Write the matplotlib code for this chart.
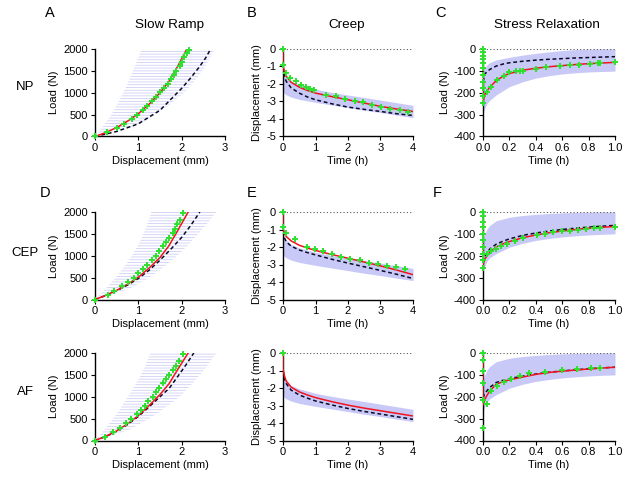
import matplotlib
matplotlib.use("Agg")
import matplotlib.pyplot as plt
import numpy as np

plt.rcParams['font.family'] = ['Liberation Sans', 'DejaVu Sans']
plt.rcParams['hatch.linewidth'] = 0.6
plt.rcParams['axes.unicode_minus'] = False

RED = '#f0141e'
DASH = '#0a0a28'
GREEN = '#2ee02e'
BAND = '#c9c9f7'
HATCH = '#cfcff5'

# ---------------- Slow ramp (Displacement mm vs Load N) ----------------
ramp_band_y = [0, 250, 500, 750, 1000, 1250, 1500, 1750, 2000]

# NP
np_ramp_red_x = [0, 0.25, 0.5, 0.75, 1.0, 1.25, 1.5, 1.7, 1.9, 2.12]
np_ramp_red_y = [0, 90, 205, 350, 520, 740, 1000, 1250, 1590, 2000]
np_ramp_dash_x = [0, 0.5, 1.0, 1.5, 2.0, 2.2, 2.4, 2.55, 2.67]
np_ramp_dash_y = [0, 115, 290, 600, 1100, 1330, 1580, 1790, 2000]
np_ramp_exp_x = [0, 0.28, 0.5, 0.67, 0.85, 0.98, 1.1, 1.2, 1.31, 1.41, 1.5,
                 1.59, 1.68, 1.76, 1.82, 1.88, 1.95, 2.0, 2.05, 2.12, 2.17]
np_ramp_exp_y = [0, 100, 200, 290, 390, 500, 600, 700, 808, 908, 1008,
                 1108, 1208, 1308, 1408, 1508, 1608, 1708, 1808, 1908, 1970]
np_ramp_band_left = [0, 0.2, 0.38, 0.52, 0.65, 0.77, 0.88, 0.98, 1.08]
np_ramp_band_right = [0.05, 0.95, 1.4, 1.75, 2.05, 2.28, 2.48, 2.63, 2.75]

# CEP
cep_ramp_red_x = [0, 0.25, 0.5, 0.75, 1.0, 1.25, 1.5, 1.7, 1.9, 2.15]
cep_ramp_red_y = [0, 95, 210, 350, 510, 720, 960, 1220, 1560, 2000]
cep_ramp_dash_x = [0, 0.25, 0.5, 0.75, 1.0, 1.25, 1.5, 1.75, 2.0, 2.2, 2.42]
cep_ramp_dash_y = [0, 90, 200, 330, 480, 670, 900, 1150, 1420, 1680, 2000]
cep_ramp_exp_x = [0, 0.29, 0.44, 0.62, 0.77, 0.9, 1.0, 1.11, 1.21, 1.31, 1.4,
                  1.48, 1.56, 1.63, 1.71, 1.79, 1.85, 1.9, 1.95, 2.03]
cep_ramp_exp_y = [0, 100, 200, 300, 400, 500, 600, 700, 800, 900, 1000,
                  1110, 1215, 1315, 1414, 1520, 1620, 1720, 1810, 1980]
cep_ramp_band_left = [0, 0.25, 0.48, 0.68, 0.85, 1.0, 1.12, 1.22, 1.3]
cep_ramp_band_right = [0.05, 0.8, 1.25, 1.6, 1.9, 2.15, 2.38, 2.6, 2.8]

# AF
af_ramp_red_x = [0, 0.25, 0.5, 0.75, 1.0, 1.25, 1.5, 1.71, 1.9, 2.15]
af_ramp_red_y = [0, 95, 220, 380, 570, 800, 1050, 1300, 1610, 2000]
af_ramp_dash_x = [0, 0.25, 0.5, 0.75, 1.0, 1.25, 1.5, 1.71, 1.9, 2.1, 2.28]
af_ramp_dash_y = [0, 90, 210, 365, 550, 770, 1000, 1190, 1450, 1730, 2000]
af_ramp_exp_x = [0, 0.24, 0.42, 0.57, 0.71, 0.84, 0.96, 1.06, 1.15, 1.23, 1.33,
                 1.4, 1.48, 1.56, 1.63, 1.71, 1.79, 1.86, 1.94, 2.02]
af_ramp_exp_y = [0, 90, 190, 295, 394, 492, 598, 697, 795, 902, 1000,
                 1098, 1205, 1303, 1402, 1508, 1606, 1705, 1811, 1985]
af_ramp_band_left = [0, 0.22, 0.42, 0.6, 0.76, 0.92, 1.06, 1.18, 1.28]
af_ramp_band_right = [0.05, 0.8, 1.25, 1.62, 1.95, 2.2, 2.42, 2.62, 2.8]

# ---------------- Creep (Time h vs Displacement mm) ----------------
creep_band_t = [0, 0.05, 0.1, 0.25, 0.5, 1.0, 1.5, 2.0, 2.5, 3.0, 3.5, 4.0]
creep_band_upper = [-1.25, -1.45, -1.6, -1.85, -2.05, -2.3, -2.48, -2.63, -2.77, -2.92, -3.07, -3.22]
creep_band_lower = [-2.45, -2.55, -2.62, -2.75, -2.88, -3.05, -3.2, -3.35, -3.5, -3.63, -3.78, -3.92]

np_creep_red_t = [0, 0, 0.05, 0.1, 0.25, 0.5, 0.75, 1.0, 1.5, 2.0, 2.5, 3.0, 3.5, 4.0]
np_creep_red_d = [0, -0.95, -1.35, -1.55, -1.9, -2.18, -2.37, -2.52, -2.72, -2.9, -3.09, -3.28, -3.43, -3.57]
np_creep_dash_t = [0, 0.05, 0.1, 0.25, 0.5, 0.75, 1.0, 1.5, 2.0, 2.5, 3.0, 3.5, 4.0]
np_creep_dash_d = [-1.0, -1.6, -1.85, -2.22, -2.52, -2.74, -2.9, -3.13, -3.32, -3.45, -3.57, -3.7, -3.8]
np_creep_exp_t = [0, 0, 0.08, 0.23, 0.41, 0.54, 0.7, 0.82, 0.94, 1.33, 1.64, 1.92,
                  2.2, 2.46, 2.75, 3.03, 3.3, 3.59, 3.85]
np_creep_exp_d = [0, -0.9, -1.37, -1.66, -1.85, -2.04, -2.18, -2.29, -2.37, -2.61, -2.71, -2.84,
                  -2.96, -3.05, -3.19, -3.32, -3.42, -3.51, -3.61]

cep_creep_red_t = [0, 0, 0.05, 0.1, 0.25, 0.5, 0.75, 1.0, 1.5, 2.0, 2.5, 3.0, 3.5, 4.0]
cep_creep_red_d = [0, -0.95, -1.25, -1.4, -1.65, -1.9, -2.06, -2.2, -2.43, -2.64, -2.86, -3.08, -3.32, -3.58]
cep_creep_dash_t = [0, 0.05, 0.1, 0.25, 0.5, 0.75, 1.0, 1.5, 2.0, 2.5, 3.0, 3.5, 4.0]
cep_creep_dash_d = [-1.1, -1.5, -1.7, -1.95, -2.17, -2.32, -2.45, -2.7, -2.92, -3.13, -3.34, -3.56, -3.8]
cep_creep_exp_t = [0, 0, 0.08, 0.36, 0.74, 0.97, 1.23, 1.52, 1.79, 2.07, 2.36, 2.65,
                   2.92, 3.2, 3.49, 3.76]
cep_creep_exp_d = [0, -0.85, -1.19, -1.57, -1.98, -2.13, -2.23, -2.4, -2.55, -2.68, -2.77, -2.89,
                   -2.98, -3.08, -3.17, -3.25]

af_creep_red_t = [0, 0, 0.05, 0.1, 0.25, 0.5, 0.75, 1.0, 1.5, 2.0, 2.5, 3.0, 3.5, 4.0]
af_creep_red_d = [0, -0.9, -1.35, -1.6, -1.95, -2.22, -2.4, -2.55, -2.78, -2.98, -3.15, -3.3, -3.45, -3.6]
af_creep_dash_t = [0, 0.05, 0.1, 0.25, 0.5, 0.75, 1.0, 1.5, 2.0, 2.5, 3.0, 3.5, 4.0]
af_creep_dash_d = [-1.0, -1.5, -1.75, -2.12, -2.4, -2.58, -2.74, -2.97, -3.17, -3.34, -3.49, -3.64, -3.79]
af_creep_exp_t = [0]
af_creep_exp_d = [0]

# ---------------- Stress relaxation (Time h vs Load N) ----------------
relax_band_t = [0, 0.01, 0.03, 0.05, 0.1, 0.2, 0.3, 0.4, 0.5, 0.6, 0.7, 0.8, 0.9, 1.0]
np_relax_band_upper = [-110, -90, -72, -62, -50, -38, -28, -20, -13, -7, -3, -1, 0, 0]
np_relax_band_lower = [-300, -275, -250, -235, -210, -172, -150, -133, -122, -114, -109, -105, -103, -101]
relax_band_upper = [-140, -105, -78, -62, -40, -24, -16, -11, -7, -4, -2, -1, 0, 0]
relax_band_lower = [-270, -250, -225, -210, -190, -161, -143, -130, -121, -114, -109, -105, -102, -100]

np_relax_red_t = [0, 0, 0.01, 0.02, 0.05, 0.1, 0.15, 0.2, 0.3, 0.4, 0.5, 0.6, 0.7, 0.8, 0.9, 1.0]
np_relax_red_f = [0, -240, -215, -200, -175, -145, -125, -112, -97, -88, -81, -76, -71, -67, -64, -61]
np_relax_dash_t = [0, 0.01, 0.02, 0.05, 0.1, 0.15, 0.2, 0.3, 0.4, 0.5, 0.6, 0.7, 0.8, 0.9, 1.0]
np_relax_dash_f = [-150, -125, -110, -94, -78, -69, -63, -56, -51, -47, -44, -41, -39, -37, -35]
np_relax_exp_t = [0, 0, 0, 0, 0, 0, 0, 0, 0, 0, 0, 0.03, 0.063, 0.106, 0.157, 0.2, 0.25, 0.28,
                  0.3, 0.4, 0.48, 0.58, 0.66, 0.73, 0.81, 0.87, 0.89, 1.0]
np_relax_exp_f = [0, -15, -30, -45, -65, -85, -120, -150, -180, -215, -245, -195, -173, -141, -122,
                  -107, -100, -102, -99, -91, -83, -78, -75, -71, -67, -64, -64, -60]

cep_relax_red_t = [0, 0, 0.01, 0.02, 0.05, 0.1, 0.15, 0.2, 0.3, 0.4, 0.5, 0.6, 0.7, 0.8, 0.9, 1.0]
cep_relax_red_f = [0, -240, -222, -210, -185, -160, -146, -135, -118, -105, -95, -87, -80, -74, -70, -66]
cep_relax_dash_t = [0, 0.01, 0.02, 0.05, 0.1, 0.15, 0.2, 0.3, 0.4, 0.5, 0.6, 0.7, 0.8, 0.9, 1.0]
cep_relax_dash_f = [-230, -212, -198, -170, -147, -134, -123, -107, -96, -87, -80, -74, -69, -65, -61]
cep_relax_exp_t = [0, 0, 0, 0, 0, 0, 0, 0, 0, 0, 0.03, 0.063, 0.096, 0.14, 0.18, 0.24, 0.3,
                   0.41, 0.47, 0.53, 0.6, 0.66, 0.72, 0.78, 0.84, 0.89, 1.0]
cep_relax_exp_f = [0, -20, -45, -70, -100, -130, -160, -190, -220, -255, -190, -180, -169, -157,
                   -146, -131, -120, -105, -100, -92, -88, -85, -80, -77, -74, -74, -69]

af_relax_red_t = [0, 0, 0.01, 0.02, 0.05, 0.1, 0.15, 0.2, 0.3, 0.4, 0.5, 0.6, 0.7, 0.8, 0.9, 1.0]
af_relax_red_f = [0, -237, -218, -205, -174, -143, -131, -123, -110, -98, -89, -83, -78, -73, -69, -65]
af_relax_dash_t = [0, 0.01, 0.02, 0.05, 0.1, 0.15, 0.2, 0.3, 0.4, 0.5, 0.6, 0.7, 0.8, 0.9, 1.0]
af_relax_dash_f = [-205, -190, -180, -158, -135, -125, -117, -106, -96, -88, -82, -77, -72, -68, -65]
af_relax_exp_t = [0, 0, 0, 0, 0, 0, 0.03, 0.063, 0.106, 0.157, 0.215, 0.28, 0.35, 0.47, 0.6, 0.71,
                  0.82, 0.89]
af_relax_exp_f = [0, -34, -81, -135, -213, -341, -232, -174, -151, -131, -117, -104, -93, -86, -78,
                  -73, -70, -67]

col_titles = ['Slow Ramp', 'Creep', 'Stress Relaxation']
row_labels = ['NP', 'CEP', 'AF']

ramp_data = [
    (np_ramp_red_x, np_ramp_red_y, np_ramp_dash_x, np_ramp_dash_y, np_ramp_exp_x, np_ramp_exp_y,
     np_ramp_band_left, np_ramp_band_right),
    (cep_ramp_red_x, cep_ramp_red_y, cep_ramp_dash_x, cep_ramp_dash_y, cep_ramp_exp_x, cep_ramp_exp_y,
     cep_ramp_band_left, cep_ramp_band_right),
    (af_ramp_red_x, af_ramp_red_y, af_ramp_dash_x, af_ramp_dash_y, af_ramp_exp_x, af_ramp_exp_y,
     af_ramp_band_left, af_ramp_band_right),
]
creep_data = [
    (np_creep_red_t, np_creep_red_d, np_creep_dash_t, np_creep_dash_d, np_creep_exp_t, np_creep_exp_d),
    (cep_creep_red_t, cep_creep_red_d, cep_creep_dash_t, cep_creep_dash_d, cep_creep_exp_t, cep_creep_exp_d),
    (af_creep_red_t, af_creep_red_d, af_creep_dash_t, af_creep_dash_d, af_creep_exp_t, af_creep_exp_d),
]
relax_data = [
    (np_relax_red_t, np_relax_red_f, np_relax_dash_t, np_relax_dash_f, np_relax_exp_t, np_relax_exp_f,
     np_relax_band_upper, np_relax_band_lower),
    (cep_relax_red_t, cep_relax_red_f, cep_relax_dash_t, cep_relax_dash_f, cep_relax_exp_t, cep_relax_exp_f,
     relax_band_upper, relax_band_lower),
    (af_relax_red_t, af_relax_red_f, af_relax_dash_t, af_relax_dash_f, af_relax_exp_t, af_relax_exp_f,
     relax_band_upper, relax_band_lower),
]

W, H = 629, 484
fig = plt.figure(figsize=(W / 100, H / 100), dpi=100)

row_tops = [49, 212, 353]
row_h = 87.5
col_lefts = [95, 283, 483]
col_w = [130, 130, 132]

TICK_FS = 8
LAB_FS = 8
red_kw = dict(color=RED, lw=1.1, zorder=4)
dash_kw = dict(color=DASH, lw=1.1, ls=(0, (2.5, 1.8)), zorder=3)
exp_kw = dict(ls='none', marker='+', ms=5, mew=1.4, color=GREEN, zorder=5, clip_on=False)


def style(ax):
    for s in ['top', 'right']:
        ax.spines[s].set_visible(False)
    for s in ['left', 'bottom']:
        ax.spines[s].set_linewidth(1.0)
    ax.tick_params(direction='out', length=3, width=0.8, labelsize=TICK_FS, pad=2)


for r in range(3):
    for c in range(3):
        left = col_lefts[c] / W
        bottom = 1 - (row_tops[r] + row_h) / H
        ax = fig.add_axes([left, bottom, col_w[c] / W, row_h / H])
        style(ax)
        if c == 0:
            rx, ry, dx, dy, ex, ey, bl, br = ramp_data[r]
            ax.fill_betweenx(ramp_band_y, bl, br, facecolor='none', edgecolor=HATCH,
                             hatch='------', lw=0, zorder=1)
            ax.plot(dx, dy, **dash_kw)
            ax.plot(rx, ry, **red_kw)
            ax.plot(ex, ey, **exp_kw)
            ax.set_xlim(0, 3)
            ax.set_ylim(0, 2000)
            ax.set_xticks([0, 1, 2, 3])
            ax.set_yticks([0, 500, 1000, 1500, 2000])
            ax.set_ylabel('Load (N)', fontsize=LAB_FS, labelpad=3)
            ax.set_xlabel('Displacement (mm)', fontsize=LAB_FS, labelpad=2)
        elif c == 1:
            rt, rd, dt, dd, et, ed = creep_data[r]
            ax.fill_between(creep_band_t, creep_band_lower, creep_band_upper, color=BAND, lw=0, zorder=1)
            ax.axhline(0, color='#555555', lw=0.8, ls=(0, (1, 2)), zorder=2)
            ax.plot(dt, dd, **dash_kw)
            ax.plot(rt, rd, **red_kw)
            ax.plot(et, ed, **exp_kw)
            ax.set_xlim(0, 4)
            ax.set_ylim(-5, 0)
            ax.set_xticks([0, 1, 2, 3, 4])
            ax.set_yticks([-5, -4, -3, -2, -1, 0])
            ax.set_ylabel('Displacement (mm)', fontsize=LAB_FS, labelpad=3)
            ax.set_xlabel('Time (h)', fontsize=LAB_FS, labelpad=2)
        else:
            rt, rf, dt, df, et, ef, bu, bl = relax_data[r]
            ax.fill_between(relax_band_t, bl, bu, color=BAND, lw=0, zorder=1)
            ax.axhline(0, color='#555555', lw=0.8, ls=(0, (1, 2)), zorder=2)
            ax.plot(dt, df, **dash_kw)
            ax.plot(rt, rf, **red_kw)
            ax.plot(et, ef, **exp_kw)
            ax.set_xlim(0, 1.0)
            ax.set_ylim(-400, 0)
            ax.set_xticks([0, 0.2, 0.4, 0.6, 0.8, 1.0])
            ax.set_xticklabels(['0.0', '0.2', '0.4', '0.6', '0.8', '1.0'])
            ax.set_yticks([-400, -300, -200, -100, 0])
            ax.set_ylabel('Load (N)', fontsize=LAB_FS, labelpad=3)
            ax.set_xlabel('Time (h)', fontsize=LAB_FS, labelpad=2)

# Column titles
title_x = [170, 347, 547]
for c, t in enumerate(col_titles):
    fig.text(title_x[c] / W, 1 - 25 / H, t, ha='center', va='center', fontsize=9.7)

# Row labels
row_y = [87, 253, 392]
for r, t in enumerate(row_labels):
    fig.text(25 / W, 1 - row_y[r] / H, t, ha='center', va='center', fontsize=9.5)

# Panel letters
letter_pos = {'A': (50, 13), 'B': (252, 13), 'C': (440, 13), 'D': (45, 193), 'E': (252, 193), 'F': (437, 193)}
for k, (x, y) in letter_pos.items():
    fig.text(x / W, 1 - y / H, k, ha='center', va='center', fontsize=10.5)

fig.savefig('out.png', dpi=100)
